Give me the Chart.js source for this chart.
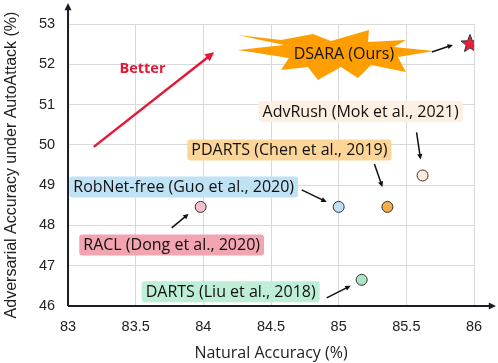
<!DOCTYPE html>
<html>
<head>
<meta charset="utf-8">
<script src="https://cdn.jsdelivr.net/npm/chart.js@4.4.1/dist/chart.umd.min.js"></script>
<style>
  html, body { margin: 0; padding: 0; background: #fff; }
  #wrap { width: 498px; height: 363px; }
</style>
</head>
<body>
<div id="wrap"><canvas id="scatter"></canvas></div>
<script>
// values
const methods = [
  "DSARA (Ours)",
  "AdvRush (Mok et al., 2021)",
  "PDARTS (Chen et al., 2019)",
  "RobNet-free (Guo et al., 2020)",
  "RACL (Dong et al., 2020)",
  "DARTS (Liu et al., 2018)",
];
const naturalAcc = [85.97, 85.62, 85.36, 85.0, 83.98, 85.17];
const adversarialAcc = [52.53, 49.24, 48.46, 48.46, 48.46, 46.65];
const xTicks = [83, 83.5, 84, 84.5, 85, 85.5, 86];
const yTicks = [46, 47, 48, 49, 50, 51, 52, 53];

// styling, kept apart from the data
const pointFill = ["#e8203c", "#fdebd8", "#f9ad4a", "#bfe0f3", "#f4c1cb", "#ace3c8"];
const boxFill = [null, "#fdf0e0", "#fcd699", "#bfe2f5", "#f2a4b0", "#bfeed6"];
// label centre and arrow (from, to) as pixel offsets from each point
const labelOffset = [[-126, 11], [-62, -64], [-98, -57], [-155, -20], [-29, 38], [-131, 12]];
const arrowOffset = [
  [[-38, 9], [-17, 2]],
  [[-6, -43], [-2, -16]],
  [[-13, -43], [-5, -20]],
  [[-37, -17], [-12, -5]],
  [[-29, 21], [-12, 7]],
  [[-35, 18], [-11, 6]],
];
// starburst outline round the DSARA label (offsets from label centre)
const burst = [
  [-106, -19], [-63, -14], [-31, -20], [-13, -13], [25, -24], [24, -12],
  [62, -14], [50, -7], [90, -3], [54, 3], [62, 18], [27, 11], [14, 24],
  [-3, 13], [-26, 26], [-36, 13], [-63, 16], [-55, 4], [-106, -4], [-60, -9],
];

const labelFont = "16px 'Open Sans', sans-serif";

// filled five-point star for our method
function makeStar(size, fill) {
  const c = document.createElement("canvas");
  c.width = size; c.height = size;
  const g = c.getContext("2d");
  const cx = size / 2, cy = size / 2 + 1, ro = size / 2 - 1.5, ri = ro * 0.42;
  g.beginPath();
  for (let i = 0; i < 10; i++) {
    const r = i % 2 ? ri : ro;
    const a = -Math.PI / 2 + i * Math.PI / 5;
    g.lineTo(cx + r * Math.cos(a), cy + r * Math.sin(a));
  }
  g.closePath();
  g.fillStyle = fill; g.fill();
  g.strokeStyle = "#333"; g.lineWidth = 1; g.stroke();
  return c;
}

function arrow(ctx, x0, y0, x1, y1, color, width, head) {
  const a = Math.atan2(y1 - y0, x1 - x0);
  ctx.save();
  ctx.strokeStyle = color; ctx.fillStyle = color; ctx.lineWidth = width;
  ctx.beginPath();
  ctx.moveTo(x0, y0);
  ctx.lineTo(x1 - Math.cos(a) * head * 0.6, y1 - Math.sin(a) * head * 0.6);
  ctx.stroke();
  ctx.beginPath();
  ctx.moveTo(x1, y1);
  ctx.lineTo(x1 - head * Math.cos(a - 0.45), y1 - head * Math.sin(a - 0.45));
  ctx.lineTo(x1 - head * Math.cos(a + 0.45), y1 - head * Math.sin(a + 0.45));
  ctx.closePath();
  ctx.fill();
  ctx.restore();
}

// axis lines with arrow heads running past the grid
const axisArrows = {
  id: "axisArrows",
  afterDraw(chart) {
    const { ctx, chartArea: a } = chart;
    arrow(ctx, a.left, a.bottom, a.left, a.top - 21, "#1b1b2a", 2, 8);
    arrow(ctx, a.left, a.bottom, a.right + 22, a.bottom, "#1b1b2a", 2, 8);
  },
};

// labels, boxes and pointer arrows
const annotations = {
  id: "annotations",
  beforeDatasetsDraw(chart) {
    const { ctx } = chart;
    const xs = chart.scales.x, ys = chart.scales.y;
    // "Better" arrow
    arrow(ctx, xs.getPixelForValue(83.19), ys.getPixelForValue(49.95),
      xs.getPixelForValue(84.08), ys.getPixelForValue(52.3), "#e31937", 2.5, 10);
    ctx.save();
    ctx.font = "bold 14.5px 'Open Sans', sans-serif";
    ctx.fillStyle = "#e31937";
    ctx.textAlign = "center"; ctx.textBaseline = "middle";
    ctx.fillText("Better", xs.getPixelForValue(83.55), ys.getPixelForValue(51.88));
    ctx.restore();

    methods.forEach((name, i) => {
      const px = xs.getPixelForValue(naturalAcc[i]);
      const py = ys.getPixelForValue(adversarialAcc[i]);
      const cx = px + labelOffset[i][0], cy = py + labelOffset[i][1];
      ctx.save();
      ctx.font = labelFont;
      const w = ctx.measureText(name).width;
      if (i === 0) {
        ctx.beginPath();
        burst.forEach(([dx, dy]) => ctx.lineTo(cx + dx, cy + dy));
        ctx.closePath();
        ctx.fillStyle = "#ff9e00";
        ctx.fill();
      } else {
        ctx.beginPath();
        ctx.roundRect(cx - w / 2 - 4, cy - 10.5, w + 8, 21, 3);
        ctx.fillStyle = boxFill[i];
        ctx.fill();
      }
      ctx.fillStyle = "#111";
      ctx.textAlign = "center"; ctx.textBaseline = "middle";
      ctx.fillText(name, cx, cy + 1);
      ctx.restore();
      const [f, t] = arrowOffset[i];
      arrow(ctx, px + f[0], py + f[1], px + t[0], py + t[1], "#111", 1.5, 6);
    });
  },
};

new Chart(document.getElementById("scatter"), {
  type: "scatter",
  data: {
    datasets: [{
      data: naturalAcc.map((x, i) => ({ x, y: adversarialAcc[i] })),
      backgroundColor: pointFill,
      borderColor: "#333",
      borderWidth: 1,
      pointRadius: 5.5,
      pointHoverRadius: 5.5,
      pointStyle: methods.map((m, i) => (i === 0 ? makeStar(22, pointFill[0]) : "circle")),
    }],
  },
  options: {
    responsive: true,
    maintainAspectRatio: false,
    animation: false,
    layout: { padding: { top: 24, right: 24, left: 2, bottom: 0 } },
    plugins: { legend: { display: false }, tooltip: { enabled: false } },
    scales: {
      x: {
        type: "linear", min: 83, max: 86,
        afterBuildTicks: (s) => { s.ticks = xTicks.map((v) => ({ value: v })); },
        grid: { color: "#d9d9d9", drawTicks: false },
        border: { display: false },
        ticks: {
          color: "#222", padding: 12, callback: (v) => String(v),
          font: { family: "'Liberation Sans', Arial", size: 14.5 },
        },
        title: {
          display: true, text: "Natural Accuracy (%)", color: "#222",
          font: { family: "'Open Sans', sans-serif", size: 16 }, padding: { top: -3.6, bottom: 0 },
        },
      },
      y: {
        type: "linear", min: 46, max: 53,
        afterBuildTicks: (s) => { s.ticks = yTicks.map((v) => ({ value: v })); },
        grid: { color: "#d9d9d9", drawTicks: false },
        border: { display: false },
        ticks: {
          color: "#222", padding: 13, callback: (v) => String(v),
          font: { family: "'Liberation Sans', Arial", size: 14.5 },
        },
        title: {
          display: true, text: "Adversarial Accuracy under AutoAttack (%)", color: "#222",
          font: { family: "'Liberation Sans', Arial", size: 16 }, padding: { top: 0, bottom: 4.7 },
        },
      },
    },
  },
  plugins: [axisArrows, annotations],
});
</script>
</body>
</html>
